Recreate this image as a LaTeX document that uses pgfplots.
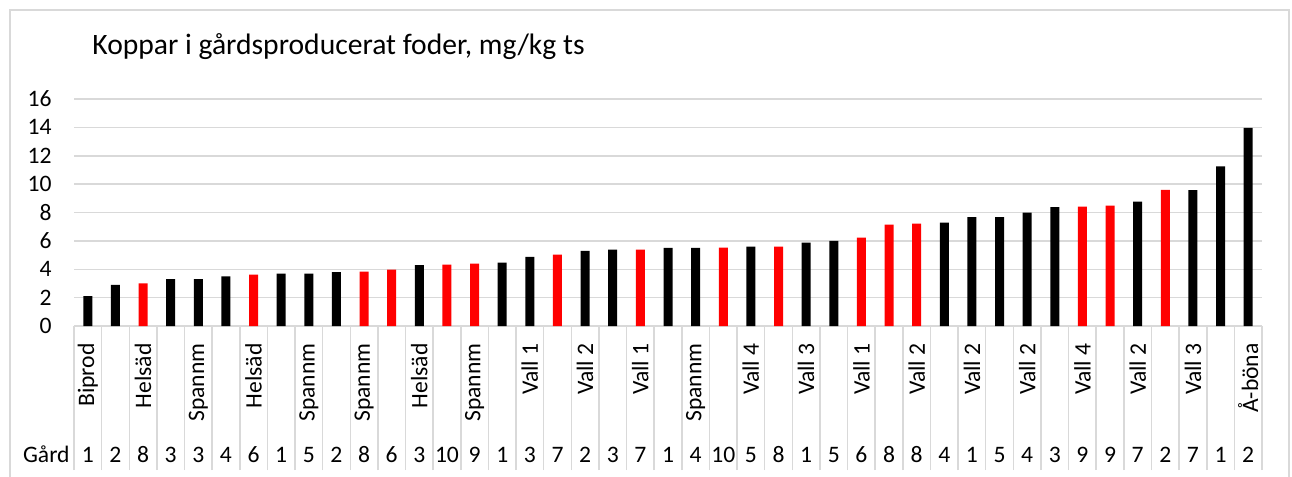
\documentclass[border=0pt]{standalone}
\usepackage{pgfplots}
\pgfplotsset{compat=1.18}
\usepackage{fontspec}
\setmainfont{Carlito}
\definecolor{gridgray}{HTML}{D9D9D9}
\definecolor{barred}{HTML}{FF0000}
\begin{document}
\begin{tikzpicture}
\path[use as bounding box] (0,0) rectangle (646pt,-238.5pt);
\draw[gridgray, line width=0.75pt] (5pt,-238.5pt) -- (5pt,-5pt) -- (644.5pt,-5pt) -- (644.5pt,-238.5pt);
\node[anchor=base west, inner sep=0pt, font=\fontsize{14.8}{17}\selectfont] at (46pt,-27pt) {Koppar i gårdsproducerat foder, mg/kg ts};
\node[anchor=base east, inner sep=0pt, font=\fontsize{11.8}{14}\selectfont] at (35pt,-231pt) {Gård};
\begin{axis}[
  at={(37pt,-163pt)}, anchor=south west,
  scale only axis, width=594pt, height=113.5pt,
  xmin=0.5, xmax=43.5, ymin=0, ymax=16,
  ytick={0,2,...,16},
  ymajorgrids, grid style={gridgray, line width=0.75pt},
  axis line style={draw=none},
  xtick pos=bottom, ytick pos=left,
  tick align=outside,
  major tick length=0pt,
  minor tick length=72pt,
  minor xtick={0.5,1.5,...,43.5},
  minor tick style={gridgray, line width=0.75pt},
  tick label style={font=\fontsize{11.8}{14}\selectfont},
  /pgf/number format/assume math mode=true,
  yticklabel style={anchor=east, inner sep=0pt, xshift=-11pt},
  xtick={1,...,43},
  xticklabels={1,2,8,3,3,4,6,1,5,2,8,6,3,10,9,1,3,7,2,3,7,1,4,10,5,8,1,5,6,8,8,4,1,5,4,3,9,9,7,2,7,1,2},
  xticklabel style={anchor=base, inner sep=0pt, yshift=-68pt},
  extra x ticks={1,3,...,43},
  extra x tick labels={Biprod,Helsäd,Spannm,Helsäd,Spannm,Spannm,Helsäd,Spannm,Vall 1,Vall 2,Vall 1,Spannm,Vall 4,Vall 3,Vall 1,Vall 2,Vall 2,Vall 2,Vall 4,Vall 2,Vall 3,Å-böna},
  extra x tick style={major tick length=0pt, xticklabel style={yshift=59.5pt, rotate=90, anchor=east}},
  ybar, bar width=4.5pt, bar shift=0pt,
]
\addplot[fill=black, draw=none] coordinates {
(1,2.1)(2,2.9)(4,3.3)(5,3.3)(6,3.5)(8,3.7)(9,3.7)(10,3.8)(13,4.3)(16,4.47)
(17,4.87)(19,5.29)(20,5.39)(22,5.5)(23,5.5)(25,5.6)(27,5.88)(28,6.0)
(32,7.28)(33,7.68)(34,7.68)(35,7.99)(36,8.38)(39,8.76)(41,9.58)(42,11.26)(43,13.96)};
\addplot[fill=barred, draw=none] coordinates {
(3,3.0)(7,3.63)(11,3.84)(12,3.98)(14,4.33)(15,4.4)(18,5.03)(21,5.39)(24,5.53)(26,5.6)
(29,6.23)(30,7.14)(31,7.21)(37,8.41)(38,8.48)(40,9.6)};
\end{axis}
\end{tikzpicture}
\end{document}
